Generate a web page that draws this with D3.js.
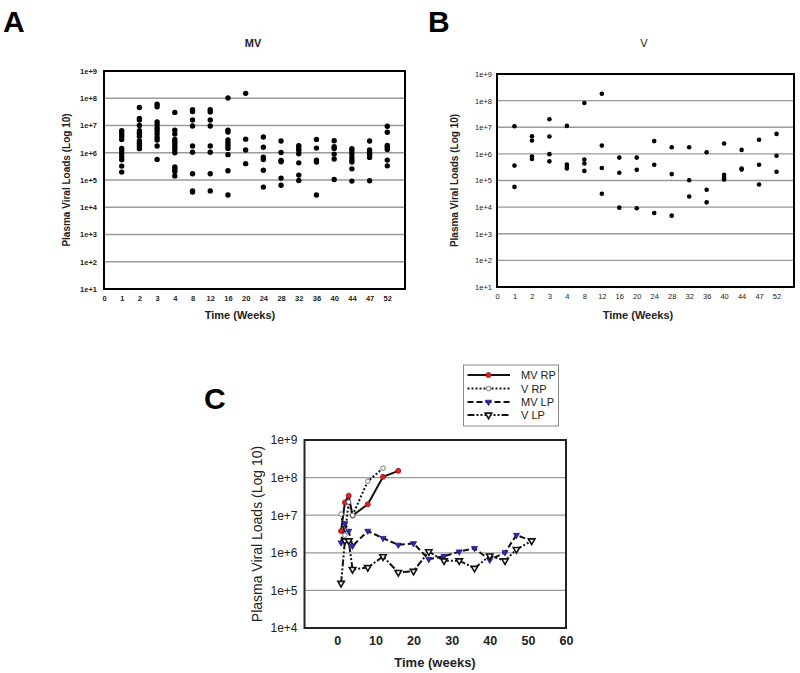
<!DOCTYPE html>
<html><head><meta charset="utf-8">
<script src="https://cdn.jsdelivr.net/npm/d3@7"></script>
<style>body{margin:0;background:#fff}svg{display:block;font-family:"Liberation Sans",Arial,sans-serif}</style>
</head><body><svg id="c" width="800" height="673"></svg>
<script>
// ---------- DATA (log10 of plasma viral load) ----------
const weekLabels = ["0","1","2","3","4","8","12","16","20","24","28","32","36","40","44","47","52"];
const yTickLabels = ["1e+1","1e+2","1e+3","1e+4","1e+5","1e+6","1e+7","1e+8","1e+9"];
// Panel A: MV group, one list per week (index into weekLabels)
const mvWeeks = ["1","2","3","4","8","12","16","20","24","28","32","36","40","44","47","52"];
const mvLogLoads = [
  [6.81,6.71,6.61,6.49,6.16,6.07,5.96,5.85,5.74,5.51,5.29],
  [7.66,7.26,7.2,7.0,6.81,6.72,6.61,6.43,6.34,6.25,6.15],
  [7.78,7.69,7.13,7.02,6.9,6.8,6.69,6.56,6.47,6.25,5.75],
  [7.48,6.83,6.69,6.49,6.4,6.32,6.22,6.12,6.0,5.48,5.4,5.31,5.15],
  [7.58,7.51,7.2,6.98,6.25,6.02,5.23,4.6,4.56],
  [7.58,7.5,7.2,6.98,6.25,6.02,5.23,4.6],
  [8.01,6.83,6.76,6.47,6.37,6.27,6.16,5.93,5.34,4.45],
  [8.18,6.5,6.1,5.6],
  [6.58,6.2,5.84,5.75,5.36,4.74],
  [6.43,6.01,5.72,5.67,5.07,4.81],
  [6.26,6.17,6.09,5.96,5.63,5.18,4.98],
  [6.49,6.17,5.73,5.66,4.45],
  [6.44,6.22,6.16,5.95,5.77,5.02],
  [6.15,6.06,5.96,5.84,5.74,5.66,5.41,4.96],
  [6.43,6.1,6.01,5.93,5.83,4.97],
  [6.97,6.75,6.27,6.2,6.12,5.73,5.52]
];
// Panel B: V group
const vWeeks = mvWeeks;
const vLogLoads = [
  [7.04,5.56,4.76],
  [6.66,6.5,5.9,5.81],
  [7.3,6.65,5.99,5.72],
  [7.05,5.6,5.52,5.45],
  [7.91,5.79,5.64,5.36],
  [8.26,6.31,5.47,4.5],
  [5.86,5.29,3.98],
  [5.86,5.4,3.96],
  [6.48,5.59,3.78],
  [6.25,5.24,3.68],
  [6.25,5.01,4.4],
  [6.06,4.65,4.18],
  [6.39,5.21,5.13,5.04],
  [6.15,5.45,5.41],
  [6.53,5.59,4.85],
  [6.75,5.93,5.33]
];
// Panel C: group medians over time
const seriesNames = ["MV RP","V RP","MV LP","V LP"];
const mvRpWeeks = [1,2,3,4,8,12,16];
const mvRpLog   = [6.58,7.34,7.52,6.99,7.29,8.02,8.18];
const vRpWeeks  = [1,2,3,4,8,12];
const vRpLog    = [7.03,6.47,7.35,7.0,7.9,8.25];
const mvLpWeeks = [1,2,3,4,8,12,16,20,24,28,32,36,40,44,47,51];
const mvLpLog   = [6.27,6.78,6.58,6.18,6.58,6.39,6.21,6.25,5.83,5.91,6.03,6.12,5.81,6.01,6.47,6.32];
const vLpWeeks  = [1,2,3,4,8,12,16,20,24,28,32,36,40,44,47,51];
const vLpLog    = [5.19,6.32,6.32,5.56,5.61,5.9,5.48,5.51,6.03,5.79,5.79,5.59,5.92,5.79,6.09,6.32];
const cXTicks = [0,10,20,30,40,50,60];
const cYTicks = ["1e+4","1e+5","1e+6","1e+7","1e+8","1e+9"];

// ---------- DRAW ----------
const svg = d3.select("#c");
const grid = "#9a9a9a";

function scatterPanel(cfg){
  const g = svg.append("g");
  const x = d3.scaleLinear().domain([0,17]).range([cfg.x0,cfg.x1]);
  const y = d3.scaleLog().domain([10,1e9]).range([cfg.y1,cfg.y0]);
  const gv = [1e2,1e3,1e4,1e5,1e6,1e7,1e8];
  g.selectAll("line.grid").data(gv).join("line")
    .attr("x1",cfg.x0).attr("x2",cfg.x1).attr("y1",d=>y(d)).attr("y2",d=>y(d))
    .attr("stroke",grid).attr("stroke-width",1.3);
  const yAx = d3.axisLeft(y).tickValues(yTickLabels.map(s=>+s)).tickFormat((d,i)=>yTickLabels[i]).tickSize(0).tickPadding(cfg.yPad);
  const ya = g.append("g").attr("transform",`translate(${cfg.x0},0)`).call(yAx);
  ya.select(".domain").remove();
  ya.selectAll("text").attr("font-size",cfg.tickSize).attr("font-weight",cfg.tickWeight).attr("fill","#222")
    .attr("font-family","'Liberation Sans',Arial,sans-serif");
  const xAx = d3.axisBottom(x).tickValues(d3.range(weekLabels.length)).tickFormat(i=>weekLabels[i]).tickSize(0).tickPadding(cfg.xPad);
  const xa = g.append("g").attr("transform",`translate(0,${cfg.y1})`).call(xAx);
  xa.select(".domain").remove();
  xa.selectAll("text").attr("font-size",cfg.tickSize).attr("font-weight",cfg.tickWeight).attr("fill","#222")
    .attr("font-family","'Liberation Sans',Arial,sans-serif");
  const pts = [];
  cfg.weeks.forEach((w,i)=>cfg.data[i].forEach(v=>pts.push({xi:weekLabels.indexOf(w),v})));
  g.selectAll("circle.pt").data(pts).join("circle")
    .attr("cx",d=>x(d.xi)).attr("cy",d=>y(Math.pow(10,d.v))).attr("r",cfg.r).attr("fill","#000");
  g.append("rect").attr("x",cfg.x0).attr("y",cfg.y0).attr("width",cfg.x1-cfg.x0).attr("height",cfg.y1-cfg.y0)
    .attr("fill","none").attr("stroke","#000").attr("stroke-width",2);
  g.append("text").attr("x",cfg.titleX).attr("y",47).attr("text-anchor","middle")
    .attr("font-size",cfg.titleSize).attr("font-weight",cfg.titleWeight).attr("fill","#222").text(cfg.title);
  g.append("text").attr("transform",`translate(${cfg.yTitleX},${(cfg.y0+cfg.y1)/2}) rotate(-90)`)
    .attr("text-anchor","middle").attr("font-size",10).attr("font-weight","bold").attr("fill","#222")
    .text("Plasma Viral Loads (Log 10)");
  g.append("text").attr("x",cfg.xTitleX).attr("y",319).attr("text-anchor","middle")
    .attr("font-size",11).attr("font-weight","bold").attr("fill","#222").text("Time (Weeks)");
  g.append("text").attr("x",cfg.letterX).attr("y",32).attr("font-size",30).attr("font-weight","bold")
    .attr("fill","#000").text(cfg.letter);
}

scatterPanel({x0:104,x1:405,y0:71,y1:289,weeks:mvWeeks,data:mvLogLoads,r:2.7,
  tickSize:7.5,tickWeight:"bold",yPad:7,xPad:7,title:"MV",titleX:253,titleSize:11,titleWeight:"bold",
  yTitleX:70,xTitleX:240,letter:"A",letterX:3});
scatterPanel({x0:497,x1:794,y0:74,y1:287,weeks:vWeeks,data:vLogLoads,r:2.3,
  tickSize:7.5,tickWeight:"normal",yPad:5,xPad:7,title:"V",titleX:644,titleSize:11,titleWeight:"normal",
  yTitleX:458,xTitleX:638,letter:"B",letterX:428});

// Panel C
(function(){
  const x0=304.5,x1=566,y0=440,y1=628;
  const g = svg.append("g");
  const x = d3.scaleLinear().domain([-8.6,60]).range([x0,x1]);
  const y = d3.scaleLog().domain([1e4,1e9]).range([y1,y0]);
  g.selectAll("line.grid").data([1e5,1e6,1e7,1e8]).join("line")
    .attr("x1",x0).attr("x2",x1).attr("y1",d=>y(d)).attr("y2",d=>y(d))
    .attr("stroke",grid).attr("stroke-width",1.3);
  const ya = g.append("g").attr("transform",`translate(${x0},0)`)
    .call(d3.axisLeft(y).tickValues(cYTicks.map(s=>+s)).tickFormat((d,i)=>cYTicks[i]).tickSize(0).tickPadding(7));
  ya.select(".domain").remove();
  ya.selectAll("text").attr("font-size",12).attr("fill","#222").attr("font-family","'Liberation Sans',Arial,sans-serif");
  const xa = g.append("g").attr("transform",`translate(0,${y1})`)
    .call(d3.axisBottom(x).tickValues(cXTicks).tickFormat(d3.format("d")).tickSize(0).tickPadding(8));
  xa.select(".domain").remove();
  xa.selectAll("text").attr("font-size",12.5).attr("font-weight","bold").attr("fill","#222").attr("font-family","'Liberation Sans',Arial,sans-serif");

  const styles = [
    {w:mvRpWeeks,v:mvRpLog,dash:null,sym:d3.symbolCircle,size:20,fill:"#e02020",stroke:"#a01010",sw:0.8,rot:0},
    {w:vRpWeeks,v:vRpLog,dash:"2,2",sym:d3.symbolCircle,size:16,fill:"#fff",stroke:"#666",sw:0.9,rot:0},
    {w:mvLpWeeks,v:mvLpLog,dash:"6,3",sym:d3.symbolTriangle,size:16,fill:"#2a2ab0",stroke:"#1a1a80",sw:0.8,rot:180},
    {w:vLpWeeks,v:vLpLog,dash:"7,2,2,2,2,2",sym:d3.symbolTriangle,size:18,fill:"#fff",stroke:"#111",sw:1.6,rot:180}
  ];
  const line = d3.line().x(d=>x(d[0])).y(d=>y(Math.pow(10,d[1])));
  styles.forEach(s=>{
    const pts = s.w.map((w,i)=>[w,s.v[i]]);
    g.append("path").attr("d",line(pts)).attr("fill","none").attr("stroke","#111").attr("stroke-width",2)
      .attr("stroke-dasharray",s.dash);
  });
  styles.forEach(s=>{
    const pts = s.w.map((w,i)=>[w,s.v[i]]);
    g.selectAll(null).data(pts).join("path")
      .attr("d",d3.symbol().type(s.sym).size(s.size))
      .attr("transform",d=>`translate(${x(d[0])},${y(Math.pow(10,d[1]))}) rotate(${s.rot})`)
      .attr("fill",s.fill).attr("stroke",s.stroke).attr("stroke-width",s.sw);
  });
  g.append("rect").attr("x",x0).attr("y",y0).attr("width",x1-x0).attr("height",y1-y0)
    .attr("fill","none").attr("stroke","#222").attr("stroke-width",2);
  g.append("text").attr("transform",`translate(262,${(y0+y1)/2}) rotate(-90)`)
    .attr("text-anchor","middle").attr("font-size",14).attr("fill","#222").text("Plasma Viral Loads (Log 10)");
  g.append("text").attr("x",435).attr("y",667).attr("text-anchor","middle")
    .attr("font-size",13).attr("font-weight","bold").attr("fill","#222").text("Time (weeks)");
  g.append("text").attr("x",204).attr("y",409).attr("font-size",30).attr("font-weight","bold").attr("fill","#000").text("C");

  // legend
  const lg = svg.append("g");
  lg.append("rect").attr("x",463.5).attr("y",365).attr("width",95).attr("height",61)
    .attr("fill","#fff").attr("stroke","#888").attr("stroke-width",1);
  const ly = [375,388.5,402,415];
  styles.forEach((s,i)=>{
    lg.append("line").attr("x1",467.5).attr("x2",510).attr("y1",ly[i]).attr("y2",ly[i])
      .attr("stroke","#111").attr("stroke-width",2).attr("stroke-dasharray",s.dash);
    lg.append("path").attr("d",d3.symbol().type(s.sym).size(s.size)())
      .attr("transform",`translate(488.5,${ly[i]}) rotate(${s.rot})`)
      .attr("fill",s.fill).attr("stroke",s.stroke).attr("stroke-width",s.sw);
    lg.append("text").attr("x",521).attr("y",ly[i]+4).attr("font-size",11).attr("fill","#222").text(seriesNames[i]);
  });
})();
</script></body></html>
